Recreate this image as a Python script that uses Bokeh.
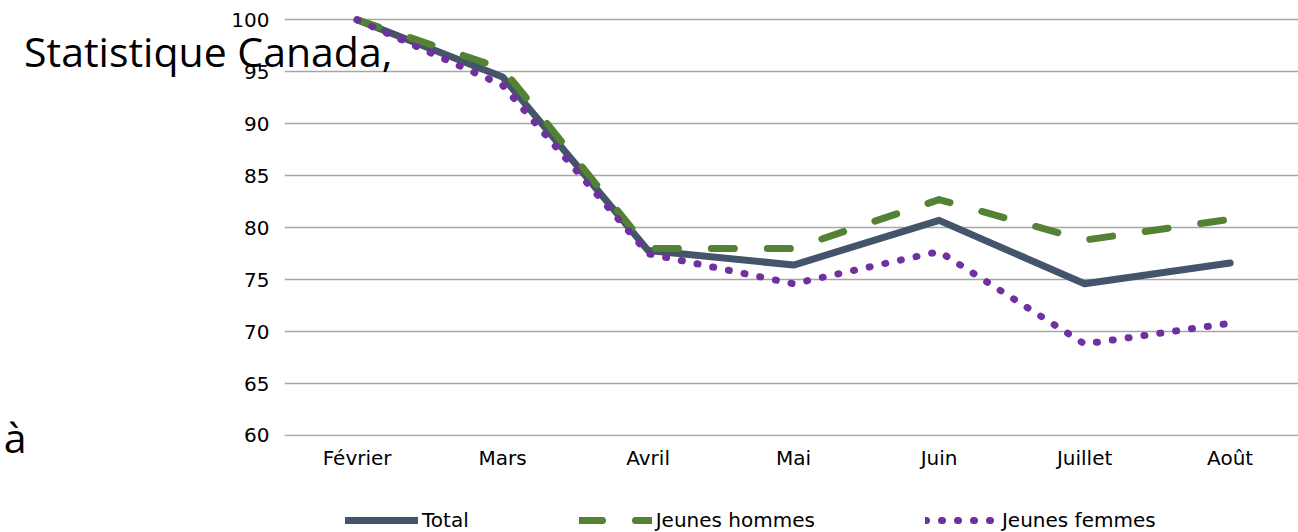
from bokeh.plotting import figure
from bokeh.layouts import column
from bokeh.models import Range1d, FixedTicker, Legend, LegendItem, LinearAxis
from bokeh.embed import file_html
from bokeh.resources import INLINE

months = ["Février", "Mars", "Avril", "Mai", "Juin", "Juillet", "Août"]
total = [100, 94.5, 77.8, 76.4, 80.7, 74.6, 76.6]
jeunes_hommes = [100, 95.3, 78.0, 78.0, 82.7, 78.8, 80.8]
jeunes_femmes = [100, 93.7, 77.5, 74.6, 77.7, 68.8, 70.8]
y_ticks = [60, 65, 70, 75, 80, 85, 90, 95, 100]

FONT = "DejaVu Sans"
SERIES = [("Total", total), ("Jeunes hommes", jeunes_hommes), ("Jeunes femmes", jeunes_femmes)]
STYLES = {
    "Total": dict(line_color="#44546A", line_width=7, line_join="round", line_cap="round"),
    "Jeunes hommes": dict(line_color="#548235", line_width=7, line_dash="23 33",
                          line_join="round", line_cap="round"),
    "Jeunes femmes": dict(line_color="#7030A0", line_width=7, line_dash="1 15",
                          line_join="round", line_cap="round"),
}

p = figure(width=1298, height=500, output_backend="svg", toolbar_location=None,
           x_range=Range1d(-0.499, 6.47), y_range=Range1d(59.9, 100.8),
           min_border_left=278, min_border_right=0, min_border_top=11, min_border_bottom=64)
p.outline_line_color = None
p.background_fill_color = "white"
p.border_fill_color = "white"

xs = list(range(len(months)))
for name, vals in SERIES:
    p.line(xs, vals, **STYLES[name])

# axes
p.xaxis.ticker = FixedTicker(ticks=xs)
p.xaxis.major_label_overrides = {i: m for i, m in enumerate(months)}
p.yaxis.ticker = FixedTicker(ticks=y_ticks)
for ax in (p.xaxis, p.yaxis):
    ax.axis_line_color = None
    ax.major_tick_line_color = None
    ax.minor_tick_line_color = None
    ax.major_tick_out = 0
    ax.major_label_text_font = FONT
    ax.major_label_text_font_size = "20px"
    ax.major_label_text_color = "black"
p.yaxis.major_label_standoff = 15
p.xaxis.major_label_standoff = 9

p.xgrid.grid_line_color = None
p.ygrid.ticker = FixedTicker(ticks=y_ticks)
p.ygrid.grid_line_color = "#a6a6a6"
p.ygrid.grid_line_width = 1.5


def set_align(ax, val):
    if "axis_label_align" in ax.properties():
        for v in (val, {"end": "right", "start": "left"}.get(val, val)):
            try:
                ax.axis_label_align = v
                return
            except Exception:
                pass


# fragments of the web page visible behind the chart, drawn as horizontal axis labels
ya = p.yaxis[0]
ya.axis_label = "\nStatistique Canada,"
ya.axis_label_orientation = "horizontal"
ya.axis_label_standoff = -164
ya.axis_label_text_font = "Open Sans"
ya.axis_label_text_font_size = "41px"
ya.axis_label_text_font_style = "normal"
ya.axis_label_text_line_height = 1.4
ya.axis_label_text_color = "black"
set_align(ya, "end")

frag = LinearAxis(ticker=FixedTicker(ticks=[]), axis_line_color=None,
                  major_tick_line_color=None, minor_tick_line_color=None,
                  major_label_standoff=0, major_tick_out=0, minor_tick_out=0,
                  axis_label="à", axis_label_orientation="horizontal",
                  axis_label_standoff=-5, axis_label_text_font="Open Sans",
                  axis_label_text_font_size="41px", axis_label_text_font_style="normal",
                  axis_label_text_color="black")
set_align(frag, "start")
p.add_layout(frag, "left")

# legend strip under the chart (its series lie outside this strip's ranges;
# only their legend swatches are seen)
leg = figure(width=1298, height=32, output_backend="svg", toolbar_location=None,
             x_range=Range1d(0, 1), y_range=Range1d(0, 1),
             x_axis_type=None, y_axis_type=None,
             min_border_left=0, min_border_right=0, min_border_top=0, min_border_bottom=0)
leg.outline_line_color = None
leg.grid.visible = False
items = [LegendItem(label=name, renderers=[leg.line(xs, vals, **STYLES[name])])
         for name, vals in SERIES]
legend = Legend(items=items, orientation="horizontal", location=(61, 0),
                glyph_width=73, glyph_height=20, label_standoff=4, spacing=110,
                padding=0, margin=0, border_line_color=None, background_fill_alpha=0,
                label_text_font=FONT, label_text_font_size="20px", label_text_color="black")
leg.add_layout(legend, "center")

layout = column(p, leg, spacing=0)
open("out.html", "w").write(file_html(layout, INLINE))
